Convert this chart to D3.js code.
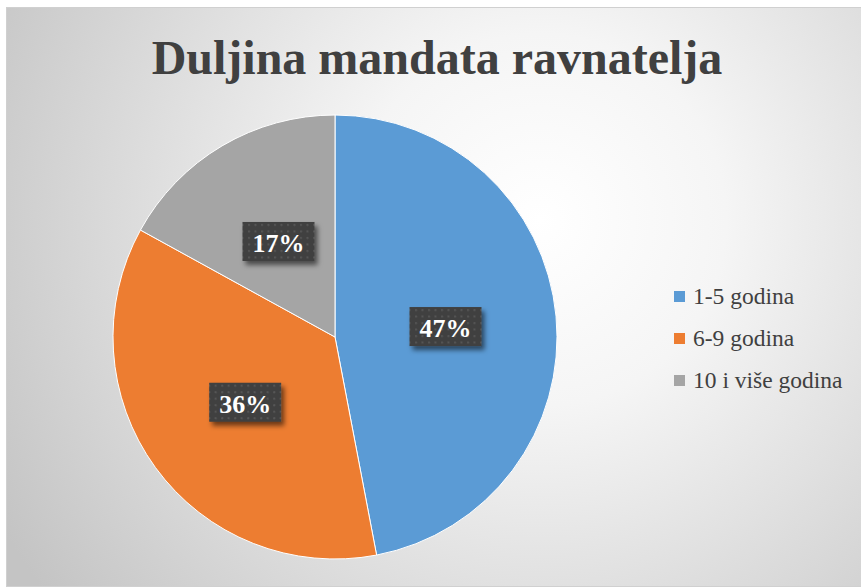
<!DOCTYPE html>
<html>
<head>
<meta charset="utf-8">
<script src="https://cdn.jsdelivr.net/npm/d3@7"></script>
<style>
  body { margin: 0; background: #fff; }
  svg { display: block; }
</style>
</head>
<body>
<div id="chart"></div>
<script>
// values
const categories = ['1-5 godina', '6-9 godina', '10 i više godina'];
const shares = [47, 36, 17];
const colors = ['#5B9BD5', '#ED7D31', '#A5A5A5'];
const chartTitle = 'Duljina mandata ravnatelja';

const width = 861, height = 587;
const frame = { x: 6, y: 7, w: 860, h: 579 };
const center = { x: 335, y: 337 };
const radius = 222;

const svg = d3.select('#chart')
  .append('svg')
  .attr('width', width)
  .attr('height', height);

const defs = svg.append('defs');

// soft grey backdrop, lighter toward the upper middle
const bg = defs.append('radialGradient')
  .attr('id', 'bg')
  .attr('gradientUnits', 'userSpaceOnUse')
  .attr('cx', 540).attr('cy', 220).attr('r', 620);
bg.append('stop').attr('offset', '0%').attr('stop-color', '#ffffff');
bg.append('stop').attr('offset', '30%').attr('stop-color', '#f5f5f5');
bg.append('stop').attr('offset', '100%').attr('stop-color', '#c4c4c4');

// dotted fill for the data label boxes
const pattern = defs.append('pattern')
  .attr('id', 'dots')
  .attr('patternUnits', 'userSpaceOnUse')
  .attr('width', 6.5).attr('height', 6.5);
pattern.append('rect').attr('width', 6.5).attr('height', 6.5).attr('fill', '#3f3f3f');
pattern.append('rect').attr('x', 2).attr('y', 2).attr('width', 2).attr('height', 2).attr('fill', '#575757');

const shadow = defs.append('filter')
  .attr('id', 'shadow')
  .attr('x', '-30%').attr('y', '-30%').attr('width', '160%').attr('height', '160%');
shadow.append('feDropShadow')
  .attr('dx', 3).attr('dy', 4)
  .attr('stdDeviation', 2.5)
  .attr('flood-color', '#000')
  .attr('flood-opacity', 0.55);

svg.append('rect')
  .attr('x', frame.x + 0.5).attr('y', frame.y + 0.5)
  .attr('width', frame.w).attr('height', frame.h)
  .attr('fill', 'url(#bg)')
  .attr('stroke', '#d0d0d0');

svg.append('text')
  .attr('x', 437)
  .attr('y', 74)
  .attr('text-anchor', 'middle')
  .style('font-family', '"Liberation Serif", "Times New Roman", serif')
  .style('font-weight', 'bold')
  .style('font-size', '48px')
  .attr('fill', '#404040')
  .text(chartTitle);

const data = categories.map((c, i) => ({ name: c, value: shares[i], color: colors[i] }));

const pie = d3.pie().sort(null).value(d => d.value);
const arc = d3.arc().innerRadius(0).outerRadius(radius);
const labelArc = d3.arc().innerRadius(radius * 0.5).outerRadius(radius * 0.5);

const graph = svg.append('g').attr('transform', `translate(${center.x}, ${center.y})`);

const slices = pie(data);

graph.selectAll('path.slice')
  .data(slices)
  .enter()
  .append('path')
  .attr('class', 'slice')
  .attr('d', arc)
  .attr('fill', d => d.data.color)
  .attr('stroke', '#ffffff')
  .attr('stroke-width', 1);

const labels = graph.selectAll('g.label')
  .data(slices)
  .enter()
  .append('g')
  .attr('class', 'label')
  .attr('transform', d => `translate(${labelArc.centroid(d)})`);

labels.append('rect')
  .attr('x', -36).attr('y', -19.5)
  .attr('width', 72).attr('height', 39)
  .attr('fill', 'url(#dots)')
  .attr('filter', 'url(#shadow)');

labels.append('text')
  .attr('text-anchor', 'middle')
  .attr('y', 10.5)
  .style('font-family', '"Liberation Serif", "Times New Roman", serif')
  .style('font-weight', 'bold')
  .style('font-size', '26px')
  .attr('fill', '#ffffff')
  .text(d => d.data.value + '%');

// legend
const legend = svg.append('g').attr('transform', 'translate(674, 291)');
const rows = legend.selectAll('g.row')
  .data(data)
  .enter()
  .append('g')
  .attr('class', 'row')
  .attr('transform', (d, i) => `translate(0, ${i * 42})`);

rows.append('rect')
  .attr('x', 0).attr('y', 0)
  .attr('width', 11).attr('height', 11)
  .attr('fill', d => d.color);

rows.append('text')
  .attr('x', 19)
  .attr('y', 13)
  .style('font-family', '"Liberation Serif", "Times New Roman", serif')
  .style('font-size', '23.5px')
  .attr('fill', '#404040')
  .text(d => d.name);
</script>
</body>
</html>
